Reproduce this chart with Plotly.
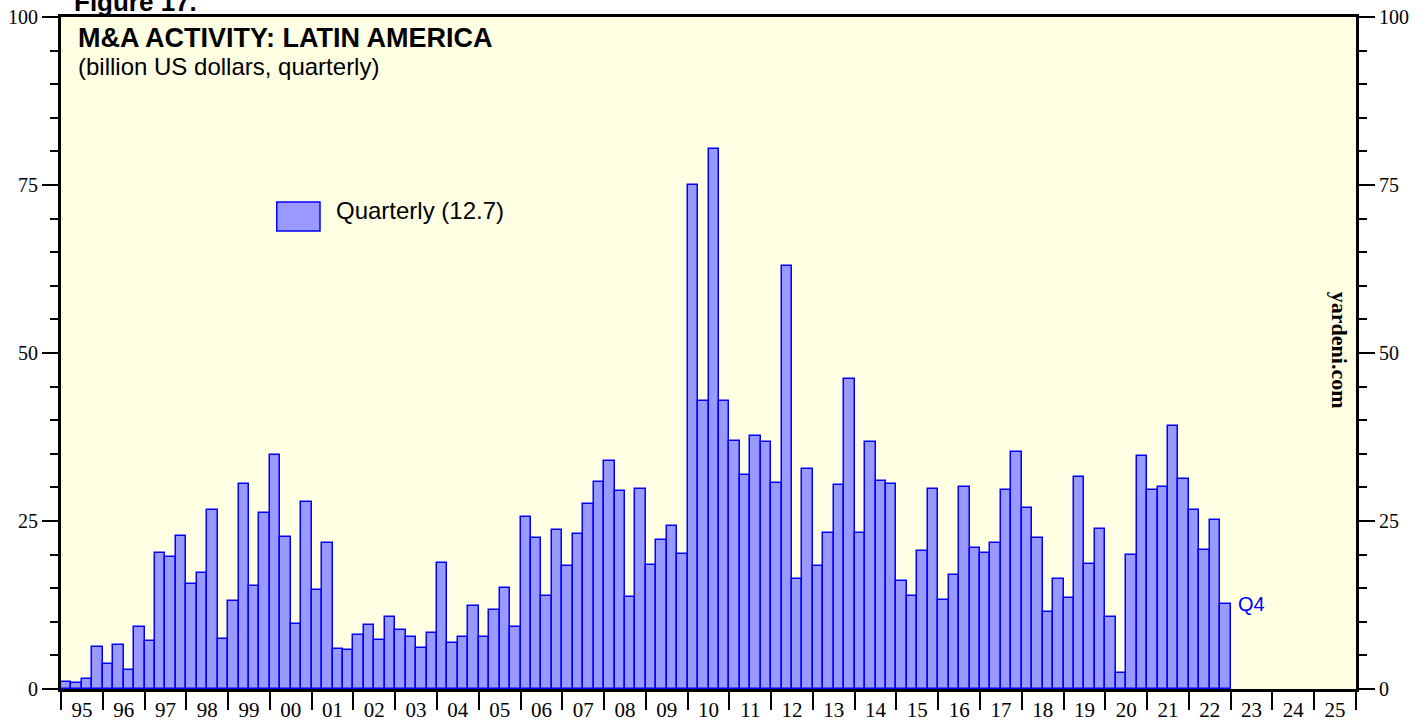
import plotly.graph_objects as go

# quarterly M&A activity, Latin America (billion US$), 1995Q1 .. 2022Q4
years = list(range(1995, 2023))
quarterly = [
    1.1, 0.9, 1.5, 6.2,      # 95
    3.7, 6.5, 2.8, 9.2,      # 96
    7.1, 20.2, 19.7, 22.7,   # 97
    15.6, 17.2, 26.6, 7.4,   # 98
    13.1, 30.5, 15.4, 26.2,  # 99
    34.8, 22.6, 9.6, 27.9,   # 00
    14.8, 21.8, 5.95, 5.85,  # 01
    8.1, 9.5, 7.3, 10.7,     # 02
    8.8, 7.8, 6.1, 8.3,      # 03
    18.8, 6.8, 7.8, 12.4,    # 04
    7.8, 11.8, 15.0, 9.2,    # 05
    25.6, 22.4, 13.8, 23.7,  # 06
    18.3, 23.0, 27.5, 30.8,  # 07
    33.9, 29.4, 13.7, 29.7,  # 08
    18.5, 22.1, 24.2, 20.1,  # 09
    75.0, 42.9, 80.3, 42.9,  # 10
    36.9, 31.9, 37.7, 36.7,  # 11
    30.7, 63.0, 16.4, 32.8,  # 12
    18.3, 23.2, 30.4, 46.1,  # 13
    23.2, 36.8, 31.0, 30.5,  # 14
    16.0, 13.8, 20.5, 29.7,  # 15
    13.3, 16.9, 30.1, 21.0,  # 16
    20.2, 21.8, 29.6, 35.3,  # 17
    26.9, 22.5, 11.5, 16.4,  # 18
    13.6, 31.6, 18.6, 23.8,  # 19
    10.7, 2.4, 20.0, 34.7,   # 20
    29.6, 30.1, 39.2, 31.3,  # 21
    26.7, 20.7, 25.1, 12.7,  # 22
]
quarters = [y + (q + 0.5) / 4 for y in years for q in range(4)]

year_ticks = list(range(1995, 2027))
year_labels = [f"{y % 100:02d}" for y in range(1995, 2026)]
label_pos = [y + 0.5 for y in range(1995, 2026)]

BAR_FILL = "#9999FF"
BAR_LINE = "#0000FF"
BG = "#FFFFE3"
serif = "Liberation Serif"
sans = "Liberation Sans"

fig = go.Figure()
fig.add_trace(go.Bar(
    x=quarters, y=quarterly, width=0.25,
    marker=dict(color=BAR_FILL, line=dict(color=BAR_LINE, width=1.5)),
    showlegend=False,
))
# invisible trace for the right-hand axis
fig.add_trace(go.Scatter(x=[1995], y=[0], yaxis="y2", mode="markers",
                         marker=dict(opacity=0), showlegend=False, hoverinfo="skip"))

yaxis_common = dict(
    range=[0, 100], tickvals=[0, 25, 50, 75, 100], ticks="outside", ticklen=16,
    tickwidth=1.5, tickcolor="black", showgrid=False, zeroline=False,
    showline=True, linecolor="black", linewidth=3, automargin=False,
    tickfont=dict(family=serif, size=20, color="black"),
    minor=dict(ticks="outside", ticklen=8, dtick=5, tick0=0, tickwidth=1.5, tickcolor="black", showgrid=False),
)

fig.update_layout(
    width=1427, height=721,
    margin=dict(l=61, r=71, t=17, b=32),
    paper_bgcolor="white", plot_bgcolor=BG,
    bargap=0,
    xaxis=dict(
        range=[1995, 2026], tickvals=label_pos, ticktext=year_labels, ticks="", ticklen=0,
        tickfont=dict(family=serif, size=21, color="black"),
        showgrid=False, zeroline=False, showline=True, linecolor="black",
        linewidth=3, mirror=True, automargin=False,
        minor=dict(tickmode="array", tickvals=year_ticks, ticks="outside", ticklen=18,
                   tickwidth=2, tickcolor="black", showgrid=False),
    ),
    yaxis=yaxis_common,
    yaxis2=dict(yaxis_common, overlaying="y", side="right"),
    annotations=[
        dict(text="<b>Figure 17.</b>", xref="paper", yref="paper", x=0.0085, y=1.0,
             yshift=15, xanchor="left", yanchor="middle", showarrow=False,
             font=dict(family=sans, size=26, color="black")),
        dict(text="<b>M&A ACTIVITY: LATIN AMERICA</b>", xref="paper", yref="paper",
             x=0.0115, y=0.969, xanchor="left", yanchor="middle", showarrow=False,
             font=dict(family=sans, size=27, color="black")),
        dict(text="(billion US dollars, quarterly)", xref="paper", yref="paper",
             x=0.0115, y=0.9265, xanchor="left", yanchor="middle", showarrow=False,
             font=dict(family=sans, size=24, color="black")),
        dict(text="Quarterly (12.7)", xref="paper", yref="paper",
             x=0.2105, y=0.7125, xanchor="left", yanchor="middle", showarrow=False,
             font=dict(family=sans, size=24, color="black")),
        dict(text="Q4", x=quarters[-1], y=quarterly[-1], xshift=11,
             xanchor="left", yanchor="middle", showarrow=False,
             font=dict(family=sans, size=20, color=BAR_LINE)),
        dict(text="<b>yardeni.com</b>", xref="paper", yref="paper", x=0.9875, y=0.5035,
             textangle=90, xanchor="center", yanchor="middle", showarrow=False,
             font=dict(family=serif, size=22, color="black")),
    ],
    shapes=[
        dict(type="rect", xref="paper", yref="paper", x0=0.1666, x1=0.2, y0=0.6815, y1=0.7247,
             fillcolor=BAR_FILL, line=dict(color=BAR_LINE, width=1.5)),
    ],
)

# drop the browser's default page margin so the figure sits at the window origin
fig.write_html("out.html", config={"displayModeBar": False},
               post_script="document.body.style.margin='0';")
